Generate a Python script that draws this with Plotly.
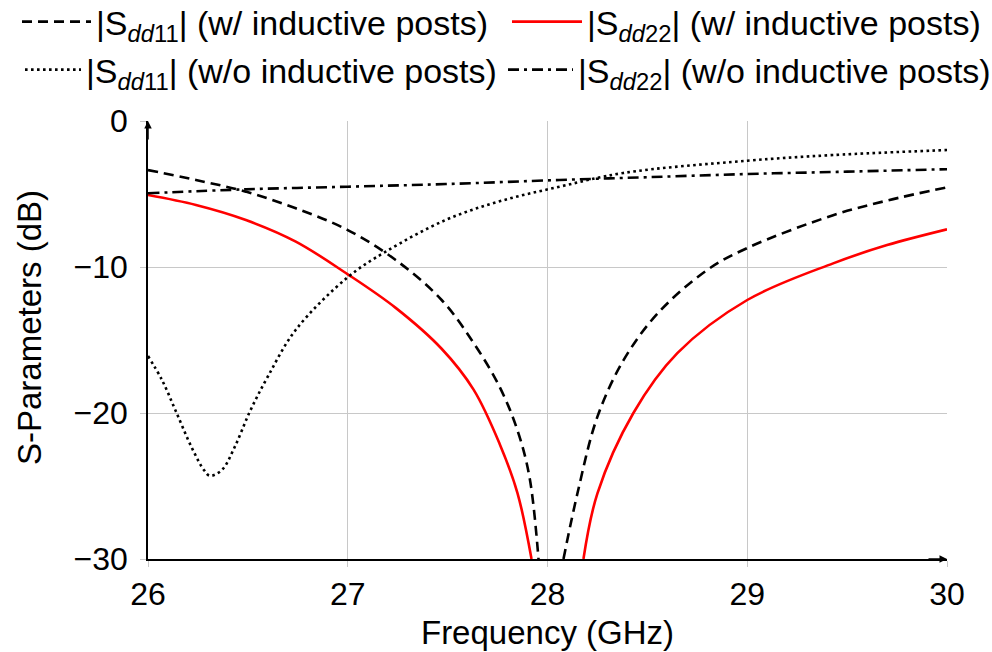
import plotly.graph_objects as go

# Frequency sweeps (GHz) and magnitudes (dB) of the differential reflection coefficients
f_s11_post = [26.0, 26.24, 26.49, 26.74, 27.0, 27.24, 27.47, 27.63, 27.76, 27.85, 27.91, 27.955,
              None,
              28.08, 28.15, 28.25, 28.38, 28.55, 28.8, 29.0, 29.43, 29.7, 30.0]
s11_post = [-3.36, -4.04, -4.84, -5.98, -7.47, -9.52, -12.26, -15.2, -18.2, -21.2, -24.4, -30.0,
            None,
            -30.0, -25.5, -20.25, -16.4, -13.2, -10.2, -8.7, -6.45, -5.45, -4.54]

f_s22_post = [26.0, 26.24, 26.49, 26.74, 27.0, 27.24, 27.47, 27.63, 27.76, 27.85, 27.92,
              None,
              28.18, 28.25, 28.43, 28.65, 29.0, 29.43, 29.7, 30.0]
s22_post = [-5.07, -5.75, -6.78, -8.26, -10.5, -12.8, -15.6, -18.4, -22.1, -25.5, -30.0,
            None,
            -30.0, -25.5, -20.0, -15.9, -12.26, -9.75, -8.5, -7.42]

f_s11_nopost = [26.0, 26.07, 26.14, 26.22, 26.28, 26.31, 26.37, 26.435, 26.51, 26.6, 26.74,
                27.0, 27.19, 27.49, 27.76, 28.06, 28.38, 29.0, 29.43, 30.0]
s11_nopost = [-16.1, -17.74, -19.9, -22.4, -23.9, -24.3, -23.9, -22.3, -19.9, -17.5, -14.3,
              -10.7, -8.95, -6.78, -5.5, -4.5, -3.56, -2.72, -2.33, -1.99]

f_s22_nopost = [26.0, 26.49, 27.0, 27.49, 28.06, 28.5, 29.0, 29.5, 30.0]
s22_nopost = [-4.95, -4.68, -4.5, -4.32, -4.04, -3.85, -3.63, -3.47, -3.3]

x_ticks = [26, 27, 28, 29, 30]
y_ticks = [0, -10, -20, -30]

FONT = "Liberation Sans, Arial, sans-serif"
FS_LEG, FS_TICK, FS_TITLE = 34, 32, 33
S11 = "|S<sub><i>dd</i>11</sub>|"
S22 = "|S<sub><i>dd</i>22</sub>|"

fig = go.Figure()
fig.add_trace(go.Scatter(x=f_s11_post, y=s11_post, mode="lines", connectgaps=False,
                         name=f"{S11} (w/ inductive posts)", legend="legend",
                         line=dict(color="black", width=2.6, dash="10px,6px", shape="spline", smoothing=1.0)))
fig.add_trace(go.Scatter(x=f_s22_post, y=s22_post, mode="lines", connectgaps=False,
                         name=f"{S22} (w/ inductive posts)", legend="legend2",
                         line=dict(color="#ff0000", width=2.6, shape="spline", smoothing=1.0)))
fig.add_trace(go.Scatter(x=f_s11_nopost, y=s11_nopost, mode="lines",
                         name=f"{S11} (w/o inductive posts)", legend="legend3",
                         line=dict(color="black", width=2.6, dash="2.6px,3.4px", shape="spline", smoothing=1.0)))
fig.add_trace(go.Scatter(x=f_s22_nopost, y=s22_nopost, mode="lines",
                         name=f"{S22} (w/o inductive posts)", legend="legend4",
                         line=dict(color="black", width=2.6, dash="11px,5px,3px,5px", shape="spline", smoothing=1.0)))


def legend_box(x_px, y_px, item_w):
    return dict(orientation="v", xref="container", yref="container",
                x=x_px / 992, y=1 - y_px / 652, xanchor="left", yanchor="middle",
                font=dict(size=FS_LEG), bgcolor="rgba(0,0,0,0)", itemwidth=item_w)


grid = "#c8c8c8"
fig.update_layout(
    width=992, height=652,
    margin=dict(l=148, r=45, t=121, b=93, autoexpand=False),
    paper_bgcolor="white", plot_bgcolor="white",
    font=dict(family=FONT, size=FS_TICK, color="black"),
    showlegend=True,
    legend=legend_box(17, 22, 69),
    legend2=legend_box(507, 22, 70),
    legend3=legend_box(20, 70, 56),
    legend4=legend_box(503, 70, 65),
    xaxis=dict(range=[26, 30], tickvals=x_ticks, showgrid=True, gridcolor=grid, gridwidth=1,
               showline=True, linecolor="black", linewidth=1.5, zeroline=False,
               ticks="outside", ticklen=6, tickcolor=grid, tickfont=dict(size=FS_TICK),
               title=dict(text="Frequency (GHz)", font=dict(size=FS_TITLE), standoff=10)),
    yaxis=dict(range=[-30, 0], tickvals=y_ticks, showgrid=True, gridcolor=grid, gridwidth=1,
               showline=True, linecolor="black", linewidth=1.5, zeroline=False,
               ticks="outside", ticklen=6, tickcolor=grid, tickfont=dict(size=FS_TICK),
               ticklabelstandoff=6),
)

# Vertical axis title
fig.add_annotation(x=(29 - 148) / 799, y=(559 - 328) / 438, xref="paper", yref="paper",
                   text="S-Parameters (dB)", textangle=-90, showarrow=False,
                   xanchor="center", yanchor="middle", font=dict(size=FS_TITLE))

# Arrow tips on the ends of the axes
fig.add_annotation(x=1, y=0, xref="paper", yref="paper", ax=-20, ay=0, axref="pixel", ayref="pixel",
                   showarrow=True, arrowhead=2, arrowsize=1, arrowwidth=1.5, arrowcolor="black", text="")
fig.add_annotation(x=0, y=1, xref="paper", yref="paper", ax=0, ay=20, axref="pixel", ayref="pixel",
                   showarrow=True, arrowhead=2, arrowsize=1, arrowwidth=1.5, arrowcolor="black", text="")

fig.write_html("out.html")
